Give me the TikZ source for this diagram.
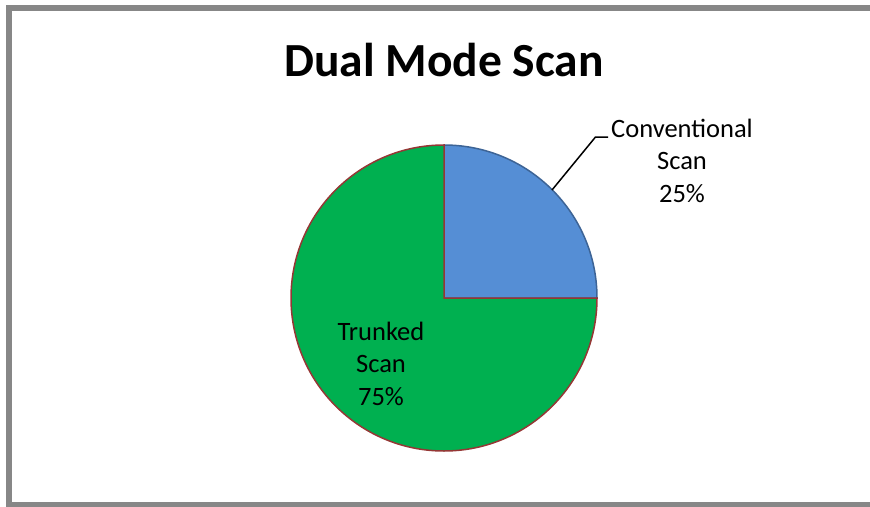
\documentclass[tikz,border=0pt]{standalone}
\usepackage{fontspec}
\setmainfont{Carlito}
\definecolor{frame}{HTML}{878787}
\definecolor{sliceblue}{HTML}{558ED5}
\definecolor{blueedge}{HTML}{3D6496}
\definecolor{slicegreen}{HTML}{00B050}
\definecolor{greenedge}{HTML}{953735}
\begin{document}
\begin{tikzpicture}[x=1pt,y=-1pt,
  lbl/.style={font=\fontsize{26.5}{32.5}\selectfont, align=center, inner sep=0pt},
  ttl/.style={font=\fontsize{47.5}{56}\selectfont\bfseries, inner sep=0pt}]
\useasboundingbox (0,0) rectangle (870,506);
% frame
\draw[frame, line width=6pt] (880,7.7) -- (9,7.7) -- (9,504.5) -- (880,504.5);
% title
\node[ttl, anchor=base] (title) at (444,76) {Dual Mode Scan};
% pie
\coordinate (c) at (444,298);
\filldraw[fill=sliceblue, draw=blueedge, line width=1.5pt] (c) -- ++(0,-153) arc[start angle=-90, end angle=0, radius=153] -- cycle;
\filldraw[fill=slicegreen, draw=greenedge, line width=1.5pt] (c) -- ++(153,0) arc[start angle=0, end angle=270, radius=153] -- cycle;
% labels
\node[lbl, anchor=base] (conv) at (682,202) {Conventional\\Scan\\25\%};
\node[lbl, anchor=base] (trunk) at (381,405) {Trunked\\Scan\\75\%};
% leader
\coordinate (p1) at (552,190);
\coordinate (bend) at (595.5,137);
\coordinate (p2) at (608,137);
\draw[black, line width=1.5pt] (p1) -- (bend) -- (p2);
\end{tikzpicture}
\end{document}
